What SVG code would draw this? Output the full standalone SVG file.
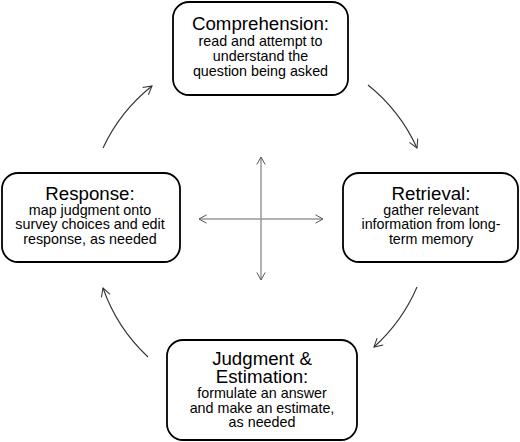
<svg xmlns="http://www.w3.org/2000/svg" width="520" height="442" viewBox="0 0 520 442">
<defs>
<style>
.box{fill:#fff;stroke:#000;stroke-width:1.8}
.t{font-family:"Liberation Sans",Arial,sans-serif;font-size:18.7px;fill:#000;text-anchor:middle}
.b{font-family:"Liberation Sans",Arial,sans-serif;font-size:14.3px;fill:#000;text-anchor:middle}
.arc{fill:none;stroke:#333;stroke-width:1.1;marker-end:url(#ah)}
.ax{fill:none;stroke:#999;stroke-width:1.5;marker-start:url(#ah2);marker-end:url(#ah2)}
</style>
<marker id="ah" viewBox="0 0 12 12" refX="10" refY="6" markerWidth="11" markerHeight="11" markerUnits="userSpaceOnUse" orient="auto-start-reverse">
<path d="M1,1 L10,6 L1,11" fill="none" stroke="#333" stroke-width="1.1"/>
</marker>
<marker id="ah2" viewBox="0 0 12 12" refX="10" refY="6" markerWidth="10" markerHeight="10" markerUnits="userSpaceOnUse" orient="auto-start-reverse">
<path d="M1,1 L10,6 L1,11" fill="none" stroke="#555" stroke-width="1.2"/>
</marker>
</defs>
<rect width="520" height="442" fill="#fff"/>
<g id="connectors">
<path class="arc" d="M103,148 A172,172 0 0 1 152,86"/>
<path class="arc" d="M368,85 A172,172 0 0 1 417,148"/>
<path class="arc" d="M417,287 A172,172 0 0 1 374,347"/>
<path class="arc" d="M148,357 A172,172 0 0 1 103,288"/>
<path class="ax" d="M261,157 L261,280"/>
<path class="ax" d="M199,219 L323,219"/>
</g>
<g id="comprehension">
<rect class="box" x="173" y="2" width="175" height="93" rx="16"/>
<text class="t" x="260.5" y="30">Comprehension:</text>
<text class="b" x="260.5" y="46">read and attempt to</text>
<text class="b" x="260.5" y="61">understand the</text>
<text class="b" x="260.5" y="76">question being asked</text>
</g>
<g id="retrieval">
<rect class="box" x="343" y="173" width="175" height="89" rx="16"/>
<text class="t" x="431" y="200">Retrieval:</text>
<text class="b" x="431" y="214.5">gather relevant</text>
<text class="b" x="431" y="229">information from long-</text>
<text class="b" x="431" y="243.5">term memory</text>
</g>
<g id="response">
<rect class="box" x="2" y="173" width="178" height="89" rx="16"/>
<text class="t" x="90" y="199.5">Response:</text>
<text class="b" x="90" y="214.5">map judgment onto</text>
<text class="b" x="90" y="229">survey choices and edit</text>
<text class="b" x="90" y="243.5">response, as needed</text>
</g>
<g id="judgment">
<rect class="box" x="167" y="340" width="190" height="100" rx="16"/>
<text class="t" x="262" y="364.5">Judgment &amp;</text>
<text class="t" x="262" y="383">Estimation:</text>
<text class="b" x="262" y="398">formulate an answer</text>
<text class="b" x="262" y="412.5">and make an estimate,</text>
<text class="b" x="262" y="427">as needed</text>
</g>
</svg>
